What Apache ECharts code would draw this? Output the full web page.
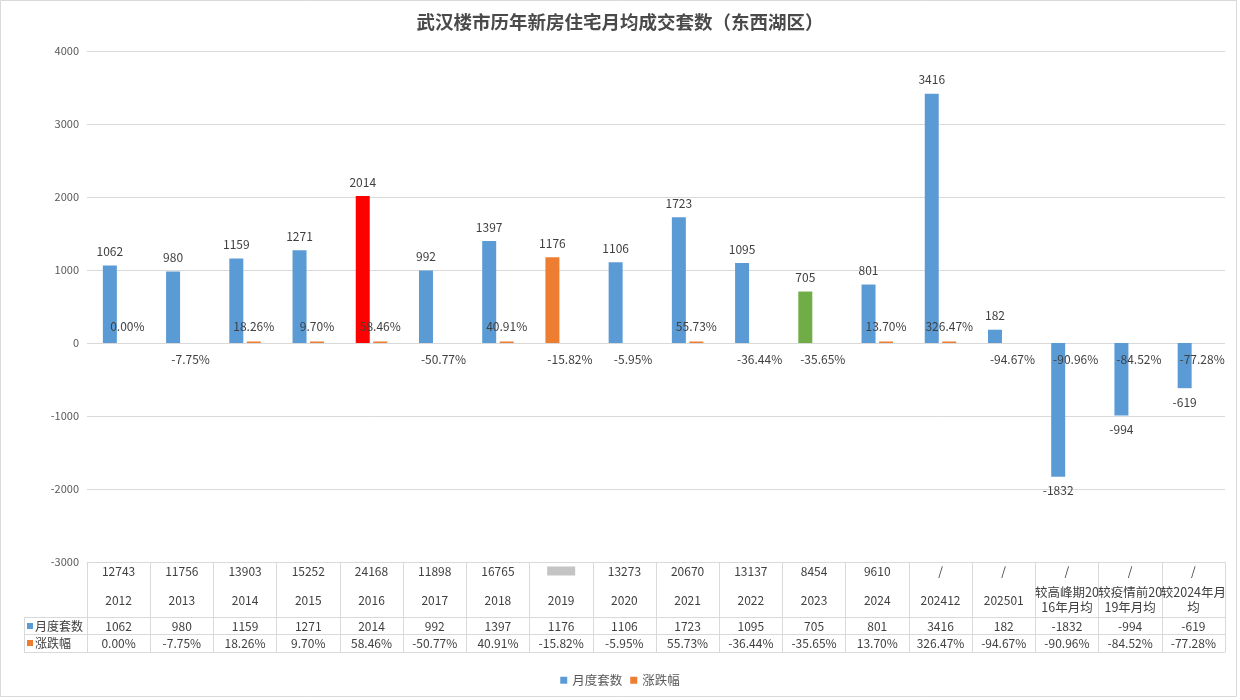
<!DOCTYPE html>
<html>
<head>
<meta charset="utf-8">
<script src="https://cdn.jsdelivr.net/npm/echarts@6/dist/echarts.min.js"></script>
<style>html,body{margin:0;padding:0;background:#fff}#c{width:1240px;height:700px}</style>
</head>
<body>
<div id="c"></div>
<script>
var categories = ['2012','2013','2014','2015','2016','2017','2018','2019','2020','2021','2022','2023','2024','202412','202501','较高峰期20\n16年月均','较疫情前20\n19年月均','较2024年月\n均'];
var annualTotals = ['12743','11756','13903','15252','24168','11898','16765',null,'13273','20670','13137','8454','9610','/','/','/','/','/'];
var monthly = [1062,980,1159,1271,2014,992,1397,1176,1106,1723,1095,705,801,3416,182,-1832,-994,-619];
var pctChange = [0.00,-7.75,18.26,9.70,58.46,-50.77,40.91,-15.82,-5.95,55.73,-36.44,-35.65,13.70,326.47,-94.67,-90.96,-84.52,-77.28];
var highlightColors = {'2016':'#ff0000','2019':'#ed7d31','2023':'#70ad47'};
var yTicks = {min:-3000, max:4000, interval:1000};

var FONT = "'Noto Sans CJK SC','Microsoft YaHei',sans-serif";
var TXT = '#404040';
var LINE = '#d9d9d9';
var BLUE = '#5b9bd5', ORANGE = '#ed7d31';

function fmtPct(p){ return p.toFixed(2) + '%'; }

var chart = echarts.init(document.getElementById('c'));

var monthlyData = monthly.map(function(v, i){
  var d = {value: v, label: {position: v >= 0 ? 'top' : 'bottom'}};
  if (highlightColors[categories[i]]) d.itemStyle = {color: highlightColors[categories[i]]};
  return d;
});
var pctData = pctChange.map(function(p){
  var d = {value: p / 100, label: {position: p >= 0 ? 'top' : 'bottom'}};
  if (p <= 0) d.itemStyle = {color: 'rgba(237,125,49,0)'};
  return d;
});

function headerFormatter(value, idx){
  var top = annualTotals[idx];
  var topStr = top === null ? '{blur|     }' : '{a|' + top + '}';
  var parts = value.split('\n');
  if (parts.length > 1) {
    return topStr + '\n{s| }\n{c|' + parts[0] + '}\n{c|' + parts[1] + '}';
  }
  return topStr + '\n{b|' + value + '}';
}

var baseLabel = {interval: 0, color: TXT, fontFamily: FONT, fontSize: 12, hideOverlap: false};

var option = {
  animation: false,
  backgroundColor: '#fff',
  title: {
    text: '武汉楼市历年新房住宅月均成交套数（东西湖区）',
    left: 'center', top: 8,
    textStyle: {fontFamily: FONT, fontSize: 18.5, fontWeight: 'bold', color: '#4a4a4a'}
  },
  legend: {
    data: ['月度套数', '涨跌幅'],
    top: 669, left: 'center',
    itemWidth: 7, itemHeight: 7, itemGap: 8,
    icon: 'rect',
    textStyle: {fontFamily: FONT, fontSize: 12.5, color: '#595959'}
  },
  grid: {left: 87, right: 15, top: 51, bottom: 138},
  xAxis: [
    {
      type: 'category', data: categories, position: 'bottom',
      axisLine: {onZero: false, lineStyle: {color: LINE}},
      axisTick: {show: true, interval: 0, length: 90, lineStyle: {color: LINE}},
      axisLabel: Object.assign({}, baseLabel, {
        margin: 2,
        formatter: headerFormatter,
        rich: {
          a: {fontFamily: FONT, fontSize: 12, color: TXT, lineHeight: 14},
          b: {fontFamily: FONT, fontSize: 12, color: TXT, lineHeight: 44},
          s: {fontSize: 5, lineHeight: 7},
          c: {fontFamily: FONT, fontSize: 12.5, color: TXT, lineHeight: 15},
          blur: {backgroundColor: '#c4c4c4', width: 28, height: 9, lineHeight: 14, fontSize: 8}
        }
      }),
      splitLine: {show: false}
    },
    {
      type: 'category', data: monthly.map(String), position: 'bottom', offset: 55,
      axisLine: {onZero: false, lineStyle: {color: LINE}},
      axisTick: {show: false},
      axisLabel: Object.assign({}, baseLabel, {margin: 1, lineHeight: 16})
    },
    {
      type: 'category', data: pctChange.map(fmtPct), position: 'bottom', offset: 72,
      axisLine: {onZero: false, lineStyle: {color: LINE}},
      axisTick: {show: false},
      axisLabel: Object.assign({}, baseLabel, {margin: 1, lineHeight: 17})
    },
    {
      type: 'category', data: categories, position: 'bottom', offset: 90,
      axisLine: {onZero: false, lineStyle: {color: LINE}},
      axisTick: {show: false},
      axisLabel: {show: false}
    }
  ],
  yAxis: {
    type: 'value', min: yTicks.min, max: yTicks.max, interval: yTicks.interval,
    axisLine: {show: false}, axisTick: {show: false},
    axisLabel: {color: '#595959', fontFamily: FONT, fontSize: 11, margin: 8,
      formatter: function(v){ return String(v); }},
    splitLine: {lineStyle: {color: LINE}}
  },
  series: [
    {
      name: '月度套数', type: 'bar', xAxisIndex: 0,
      data: monthlyData,
      barWidth: 14, barGap: '25%',
      itemStyle: {color: BLUE},
      label: {show: true, distance: 8, color: TXT, fontFamily: FONT, fontSize: 12}
    },
    {
      name: '涨跌幅', type: 'bar', xAxisIndex: 0,
      data: pctData,
      barWidth: 14, barGap: '25%', barMinHeight: 1.5,
      itemStyle: {color: ORANGE},
      label: {show: true, distance: 9, color: TXT, fontFamily: FONT, fontSize: 12,
        formatter: function(p){ return fmtPct(pctChange[p.dataIndex]); }}
    }
  ],
  graphic: [
    {type: 'rect', silent: true, shape: {x: 0.5, y: 0.5, width: 1236, height: 696}, style: {fill: 'none', stroke: LINE, lineWidth: 1}},
    {type: 'line', silent: true, shape: {x1: 24, y1: 617.5, x2: 87, y2: 617.5}, style: {stroke: LINE}},
    {type: 'line', silent: true, shape: {x1: 24, y1: 634.5, x2: 87, y2: 634.5}, style: {stroke: LINE}},
    {type: 'line', silent: true, shape: {x1: 24, y1: 652.5, x2: 87, y2: 652.5}, style: {stroke: LINE}},
    {type: 'line', silent: true, shape: {x1: 24.5, y1: 617, x2: 24.5, y2: 653}, style: {stroke: LINE}},
    {type: 'rect', silent: true, shape: {x: 27, y: 623, width: 6, height: 6}, style: {fill: BLUE}},
    {type: 'text', silent: true, x: 35, y: 626, style: {text: '月度套数', fill: TXT, font: '12px ' + FONT, verticalAlign: 'middle'}},
    {type: 'rect', silent: true, shape: {x: 27, y: 640, width: 6, height: 6}, style: {fill: ORANGE}},
    {type: 'text', silent: true, x: 35, y: 643, style: {text: '涨跌幅', fill: TXT, font: '12px ' + FONT, verticalAlign: 'middle'}}
  ]
};
chart.setOption(option);
</script>
</body>
</html>
